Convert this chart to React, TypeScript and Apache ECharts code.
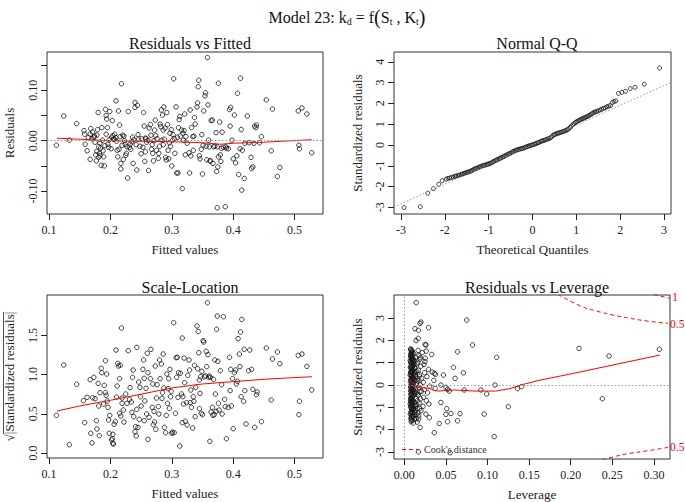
import React, { useEffect, useRef } from "react";
import * as echarts from "echarts";

const FONT = "'Liberation Serif', 'Times New Roman', serif";

// ---------- Residuals vs Fitted: [fitted, residual] ----------
const residFitted: [number, number][] = [
  [0.112,-0.009],[0.124,0.049],[0.133,0.001],[0.145,0.034],[0.157,0.020],[0.158,0.013],[0.159,-0.007],[0.162,-0.020],
  [0.167,-0.037],[0.168,0.024],[0.167,0.013],[0.170,0.004],[0.173,0.007],[0.174,0.009],[0.177,-0.040],[0.178,0.011],
  [0.180,0.056],[0.179,0.022],[0.181,-0.012],[0.182,-0.025],[0.181,-0.033],[0.183,-0.005],[0.184,-0.015],[0.185,-0.049],
  [0.186,0.026],[0.189,-0.032],[0.190,-0.050],[0.192,0.062],[0.193,0.050],[0.194,0.043],[0.193,0.013],[0.195,0.026],
  [0.196,-0.007],[0.197,-0.013],[0.199,0.058],[0.202,0.007],[0.203,0.040],[0.205,0.003],[0.206,0.003],[0.209,0.079],
  [0.209,0.006],[0.211,-0.019],[0.212,-0.032],[0.213,0.059],[0.215,0.031],[0.216,0.008],[0.217,-0.045],[0.217,-0.056],
  [0.218,0.113],[0.219,-0.009],[0.220,0.011],[0.222,0.009],[0.224,-0.007],[0.225,-0.029],[0.226,-0.025],[0.228,-0.074],
  [0.229,0.058],[0.231,-0.013],[0.232,-0.007],[0.235,-0.002],[0.236,0.007],[0.237,-0.045],[0.240,0.076],[0.240,0.066],
  [0.243,-0.058],[0.244,0.070],[0.246,0.003],[0.248,-0.011],[0.250,-0.026],[0.253,-0.013],[0.254,0.056],[0.255,0.029],
  [0.256,-0.041],[0.257,-0.022],[0.258,0.004],[0.259,-0.003],[0.261,0.001],[0.262,-0.059],[0.265,0.032],[0.266,0.011],
  [0.268,-0.008],[0.269,-0.025],[0.270,-0.040],[0.271,0.000],[0.272,0.021],[0.273,0.041],[0.275,-0.019],[0.276,0.004],
  [0.278,-0.035],[0.280,-0.011],[0.282,0.028],[0.283,0.061],[0.284,0.001],[0.285,0.051],[0.286,0.021],[0.287,0.067],
  [0.288,0.003],[0.290,-0.033],[0.291,-0.038],[0.292,0.056],[0.293,0.032],[0.294,-0.019],[0.295,-0.036],[0.296,-0.004],
  [0.297,0.015],[0.298,-0.011],[0.299,0.022],[0.301,0.001],[0.303,0.123],[0.304,0.004],[0.305,-0.025],[0.307,0.067],
  [0.308,-0.064],[0.310,-0.064],[0.309,0.007],[0.311,0.026],[0.312,0.042],[0.313,0.048],[0.314,0.009],[0.316,0.021],
  [0.317,-0.095],[0.318,0.015],[0.319,0.001],[0.320,0.020],[0.321,0.053],[0.322,-0.028],[0.323,0.008],[0.325,-0.005],
  [0.328,-0.024],[0.329,-0.064],[0.330,0.061],[0.331,-0.030],[0.332,0.026],[0.334,0.008],[0.335,-0.019],[0.336,0.009],
  [0.337,0.046],[0.338,0.033],[0.341,0.067],[0.342,0.075],[0.343,0.107],[0.344,0.120],[0.345,-0.030],[0.346,-0.036],
  [0.348,-0.017],[0.349,0.012],[0.350,-0.066],[0.351,-0.009],[0.352,0.059],[0.354,0.089],[0.355,0.095],[0.356,-0.011],
  [0.357,-0.038],[0.358,0.165],[0.359,0.071],[0.360,0.001],[0.361,-0.012],[0.362,-0.040],[0.363,-0.040],[0.364,0.040],
  [0.366,0.041],[0.367,-0.045],[0.368,-0.012],[0.370,-0.011],[0.372,0.016],[0.373,-0.061],[0.374,-0.012],[0.375,-0.052],
  [0.376,0.114],[0.376,-0.032],[0.378,0.037],[0.379,-0.028],[0.380,-0.041],[0.381,-0.015],[0.382,0.017],[0.384,-0.013],
  [0.387,-0.131],[0.374,-0.133],[0.388,-0.012],[0.389,-0.015],[0.392,-0.016],[0.394,0.062],[0.395,0.029],[0.396,0.066],
  [0.398,0.001],[0.400,-0.036],[0.402,0.051],[0.404,-0.044],[0.406,-0.030],[0.407,0.094],[0.409,-0.067],[0.411,-0.016],
  [0.412,0.124],[0.413,0.022],[0.414,-0.098],[0.415,-0.019],[0.418,-0.075],[0.419,-0.005],[0.423,0.049],[0.426,-0.004],
  [0.429,-0.033],[0.430,-0.055],[0.432,-0.052],[0.434,-0.005],[0.435,0.029],[0.437,0.026],[0.438,0.031],[0.443,-0.004],
  [0.446,0.008],[0.454,0.081],[0.462,-0.020],[0.464,0.063],[0.472,-0.071],[0.476,-0.053],[0.506,0.059],[0.507,-0.009],
  [0.508,-0.016],[0.512,0.065],[0.520,0.053],[0.528,-0.024],
  [0.164,0.006],[0.171,0.017],[0.175,-0.003],[0.176,-0.028],[0.178,-0.021],[0.183,-0.030],[0.187,0.001],[0.188,-0.020],
  [0.191,-0.010],[0.198,0.002],[0.201,-0.016],[0.204,0.010],[0.207,0.013],[0.210,-0.001],[0.214,-0.017],[0.221,-0.037],
  [0.223,0.000],[0.227,-0.012],[0.233,-0.017],[0.238,0.002],[0.242,-0.008],[0.245,0.012],[0.251,0.004],[0.257,0.005],
  [0.263,0.025],[0.267,-0.017],[0.274,0.010],[0.279,-0.025],[0.281,0.033],[0.286,-0.008],[0.289,0.025],[0.300,-0.050],
  [0.302,0.012]
];
const lowessRF: [number, number][] = [
  [0.113,0.005],[0.15,0.003],[0.2,0.0],[0.25,-0.001],[0.3,-0.002],[0.35,-0.004],[0.38,-0.007],[0.40,-0.005],
  [0.45,-0.003],[0.48,-0.001],[0.528,0.002]
];

// ---------- Normal Q-Q: [theoretical, standardized residual] ----------
const qqPoints: [number, number][] = [
  [-2.93,-3.01],[-2.56,-2.97],[-2.39,-2.32],[-2.26,-2.10],[-2.14,-1.89],[-2.06,-1.72],
  [-1.97,-1.64],[-1.93,-1.61],[-1.89,-1.59],[-1.85,-1.56],[-1.81,-1.54],[-1.77,-1.51],[-1.74,-1.49],[-1.70,-1.47],
  [-1.67,-1.45],[-1.63,-1.42],[-1.60,-1.40],[-1.57,-1.37],[-1.54,-1.35],[-1.51,-1.33],[-1.48,-1.31],[-1.45,-1.29],
  [-1.42,-1.27],[-1.39,-1.24],[-1.36,-1.20],[-1.33,-1.16],[-1.30,-1.14],[-1.27,-1.12],[-1.24,-1.09],[-1.21,-1.06],
  [-1.18,-1.03],[-1.15,-1.01],[-1.12,-0.99],[-1.09,-0.97],[-1.06,-0.95],[-1.03,-0.93],[-1.00,-0.91],[-0.97,-0.89],
  [-0.94,-0.86],[-0.91,-0.82],[-0.88,-0.79],[-0.85,-0.75],[-0.82,-0.72],[-0.79,-0.69],[-0.76,-0.66],[-0.73,-0.63],
  [-0.70,-0.60],[-0.67,-0.57],[-0.64,-0.54],[-0.61,-0.50],[-0.58,-0.47],[-0.55,-0.44],[-0.52,-0.41],[-0.49,-0.38],
  [-0.46,-0.34],[-0.43,-0.31],[-0.40,-0.28],[-0.37,-0.25],[-0.34,-0.23],[-0.31,-0.21],[-0.28,-0.19],[-0.25,-0.18],
  [-0.22,-0.16],[-0.19,-0.14],[-0.16,-0.11],[-0.13,-0.08],[-0.10,-0.06],[-0.07,-0.04],[-0.04,-0.02],[-0.01,0.00],
  [0.02,0.02],[0.05,0.04],[0.08,0.07],[0.11,0.09],[0.14,0.12],[0.17,0.15],[0.20,0.18],[0.23,0.20],
  [0.26,0.22],[0.29,0.24],[0.32,0.27],[0.35,0.29],[0.38,0.31],[0.41,0.34],[0.44,0.40],[0.47,0.47],
  [0.50,0.50],[0.53,0.52],[0.56,0.55],[0.59,0.57],[0.62,0.59],[0.65,0.61],[0.68,0.63],[0.71,0.65],
  [0.74,0.68],[0.77,0.71],[0.80,0.73],[0.83,0.78],[0.86,0.85],[0.89,0.91],[0.92,0.97],[0.95,1.03],
  [0.98,1.08],[1.01,1.12],[1.04,1.16],[1.07,1.19],[1.10,1.22],[1.13,1.26],[1.16,1.28],[1.19,1.31],
  [1.22,1.34],[1.25,1.37],[1.28,1.40],[1.31,1.44],[1.34,1.48],[1.37,1.52],[1.40,1.56],[1.43,1.59],
  [1.46,1.61],[1.50,1.64],[1.54,1.68],[1.58,1.72],[1.62,1.76],[1.66,1.79],[1.70,1.84],[1.74,1.87],
  [1.78,1.89],[1.82,2.04],[1.86,2.09],[1.90,2.12],
  [1.96,2.48],[2.04,2.53],[2.12,2.58],[2.23,2.71],[2.34,2.77],[2.55,2.92],[2.90,3.70]
];
const qqLine: [number, number][] = [[-3.3,-3.12],[3.3,3.14]];

// ---------- Scale-Location: [fitted, sqrt|std resid|] ----------
const scaleLoc: [number, number][] = [
  [0.112,0.480],[0.124,1.122],[0.133,0.106],[0.145,0.876],[0.156,0.667],[0.158,0.387],[0.162,0.710],[0.167,0.935],
  [0.168,0.251],[0.170,0.128],[0.171,0.705],[0.173,0.965],[0.175,0.693],[0.177,0.412],[0.178,0.306],[0.180,0.888],
  [0.181,0.599],[0.182,0.221],[0.183,0.769],[0.185,1.080],[0.186,1.024],[0.192,1.177],[0.189,0.625],[0.190,0.863],
  [0.192,0.769],[0.193,0.735],[0.194,1.007],[0.195,0.663],[0.196,0.582],[0.197,0.421],[0.198,0.251],[0.199,0.480],
  [0.202,0.166],[0.203,0.183],[0.204,0.123],[0.204,0.238],[0.205,0.115],[0.206,0.366],[0.208,0.400],[0.209,1.313],
  [0.210,0.714],[0.211,0.854],[0.212,1.143],[0.213,1.109],[0.215,0.948],[0.215,0.506],[0.216,1.118],[0.217,0.472],
  [0.218,1.594],[0.219,0.633],[0.219,0.701],[0.221,0.548],[0.222,0.395],[0.225,0.752],[0.227,0.633],[0.229,1.305],
  [0.231,0.684],[0.232,0.833],[0.234,0.650],[0.235,0.519],[0.236,0.965],[0.237,1.058],[0.238,0.463],[0.240,0.272],
  [0.241,0.336],[0.242,0.217],[0.243,1.347],[0.243,0.557],[0.245,0.327],[0.246,0.905],[0.247,0.429],[0.248,0.837],
  [0.249,0.718],[0.250,0.599],[0.253,1.067],[0.254,1.186],[0.255,0.952],[0.255,0.412],[0.256,0.663],[0.258,0.825],
  [0.259,0.497],[0.260,1.271],[0.261,0.174],[0.261,1.024],[0.263,0.455],[0.265,0.948],[0.266,1.322],[0.268,0.582],
  [0.269,0.880],[0.270,0.361],[0.271,0.531],[0.272,0.395],[0.273,1.109],[0.274,0.302],[0.275,0.701],[0.276,0.871],
  [0.278,0.591],[0.279,0.497],[0.280,1.186],[0.281,0.948],[0.283,1.135],[0.284,0.697],[0.285,0.769],[0.286,1.262],
  [0.287,0.829],[0.288,0.327],[0.290,0.259],[0.291,0.480],[0.292,1.007],[0.293,0.633],[0.294,0.820],[0.295,0.948],
  [0.296,0.570],[0.297,1.067],[0.298,0.718],[0.299,0.786],[0.300,0.251],[0.301,0.265],[0.303,1.662],[0.304,0.259],
  [0.306,0.506],[0.307,1.216],[0.308,0.965],[0.309,1.220],[0.310,0.710],[0.311,1.024],[0.313,0.089],[0.314,1.016],
  [0.316,0.752],[0.317,0.387],[0.317,1.466],[0.318,0.718],[0.319,0.625],[0.320,1.211],[0.321,0.897],[0.322,0.404],
  [0.324,0.642],[0.325,0.357],[0.326,0.990],[0.328,1.186],[0.329,1.058],[0.330,0.642],[0.331,0.803],[0.332,0.582],
  [0.334,0.319],[0.335,0.718],[0.336,0.659],[0.337,1.118],[0.338,0.463],[0.339,0.837],[0.341,1.620],[0.343,1.550],
  [0.342,1.075],[0.344,1.279],[0.345,0.931],[0.345,0.565],[0.346,0.761],[0.347,0.973],[0.348,0.506],[0.349,1.041],
  [0.350,0.489],[0.351,1.432],[0.352,1.415],[0.353,0.973],[0.355,0.982],[0.356,1.296],[0.357,1.101],[0.358,1.917],
  [0.359,1.254],[0.360,0.965],[0.361,0.982],[0.362,0.149],[0.363,0.965],[0.364,0.523],[0.366,0.582],[0.367,0.480],
  [0.368,0.939],[0.369,0.489],[0.370,1.186],[0.371,0.752],[0.372,0.531],[0.373,1.577],[0.374,1.747],[0.375,1.169],
  [0.376,0.633],[0.377,0.548],[0.379,1.050],[0.381,0.871],[0.382,0.497],[0.384,1.738],[0.386,0.684],[0.387,0.591],
  [0.389,0.183],[0.392,0.582],[0.394,1.220],[0.395,0.795],[0.396,1.067],[0.397,0.599],[0.399,0.948],[0.400,0.310],
  [0.402,1.024],[0.404,1.058],[0.405,0.880],[0.407,0.914],[0.408,1.458],[0.410,1.262],[0.411,1.101],[0.412,1.543],
  [0.413,0.718],[0.414,1.704],[0.417,0.659],[0.418,1.322],[0.419,0.795],[0.421,0.370],[0.425,1.050],[0.427,1.313],
  [0.430,1.067],[0.432,0.812],[0.435,0.327],[0.438,0.744],[0.439,0.778],[0.446,0.400],[0.454,1.339],[0.462,0.676],
  [0.464,1.199],[0.472,1.288],[0.476,1.139],[0.506,1.245],[0.507,0.489],[0.508,0.659],[0.512,1.262],[0.520,1.105],
  [0.528,0.803]
];
const lowessSL: [number, number][] = [
  [0.113,0.535],[0.15,0.60],[0.2,0.672],[0.25,0.75],[0.3,0.83],[0.35,0.88],[0.4,0.91],[0.45,0.94],[0.528,0.973]
];

// ---------- Residuals vs Leverage: [leverage, std residual] ----------
const levResid: [number, number][] = [
  [0.0075,1.62],[0.0082,1.55],[0.0090,1.48],[0.0078,1.40],[0.0086,1.33],[0.0095,1.36],[0.0080,1.25],[0.0092,1.21],
  [0.0101,1.28],[0.0085,1.15],[0.0098,1.10],[0.0077,1.05],[0.0108,1.02],[0.0089,0.96],[0.0115,0.92],[0.0082,0.88],
  [0.0096,0.82],[0.0125,0.79],[0.0079,0.74],[0.0104,0.70],[0.0088,0.64],[0.0132,0.60],[0.0093,0.55],[0.0076,0.50],
  [0.0112,0.46],[0.0085,0.41],[0.0141,0.38],[0.0099,0.33],[0.0081,0.28],[0.0120,0.24],[0.0091,0.19],[0.0074,0.14],
  [0.0108,0.10],[0.0150,0.07],[0.0087,0.03],[0.0079,-0.02],[0.0118,-0.06],[0.0094,-0.10],[0.0135,-0.14],[0.0083,-0.18],
  [0.0102,-0.22],[0.0077,-0.27],[0.0126,-0.31],[0.0090,-0.35],[0.0158,-0.40],[0.0084,-0.44],[0.0110,-0.48],[0.0097,-0.53],
  [0.0076,-0.57],[0.0138,-0.61],[0.0088,-0.66],[0.0105,-0.70],[0.0080,-0.75],[0.0122,-0.79],[0.0093,-0.84],[0.0147,-0.88],
  [0.0085,-0.92],[0.0100,-0.97],[0.0078,-1.01],[0.0116,-1.05],[0.0091,-1.10],[0.0130,-1.14],[0.0083,-1.19],[0.0106,-1.23],
  [0.0096,-1.28],[0.0140,-1.33],[0.0087,-1.38],[0.0112,-1.43],[0.0079,-1.48],[0.0124,-1.53],[0.0094,-1.58],[0.0082,-1.64],
  [0.0109,-1.70],[0.0155,-1.66],[0.0172,-1.52],[0.0165,-1.25],[0.0185,-1.05],[0.0178,-0.80],[0.0195,-0.62],[0.0168,-0.45],
  [0.0205,-0.28],[0.0175,-0.12],[0.0190,0.02],[0.0162,0.18],[0.0210,0.31],[0.0182,0.47],[0.0170,0.66],[0.0198,0.84],
  [0.0160,1.02],[0.0188,1.16],[0.0176,1.32],[0.0215,1.45],[0.0225,-0.95],[0.0232,-0.55],[0.0240,-0.20],[0.0228,0.12],
  [0.0245,0.55],[0.0236,0.92],[0.0252,1.20],[0.0260,-1.30],[0.0265,-0.70],[0.0272,0.38],[0.0280,-0.35],[0.0290,0.70],
  [0.0295,-0.85],[0.0305,-0.05],[0.0262,1.52],[0.0248,1.05],[0.0070,0.45],[0.0072,-0.85],[0.0071,1.10],[0.0073,-1.30],
  [0.0084,0.60],[0.0089,-0.60],[0.0093,0.25],[0.0098,-0.30],[0.0103,0.85],[0.0107,-1.10],[0.0113,1.40],[0.0119,0.55],
  [0.0123,-0.40],[0.0128,1.05],[0.0134,-0.95],[0.0139,0.20],[0.0144,-1.50],[0.0152,0.95],[0.0157,-0.70],[0.0166,1.55],
  [0.0173,-1.38],[0.0181,0.40],[0.0187,-0.30],[0.0193,1.23],[0.0201,-1.15],
  [0.0081,1.58],[0.0087,1.44],[0.0076,1.30],[0.0091,1.18],[0.0079,0.99],[0.0086,0.78],[0.0078,0.58],[0.0092,0.37],
  [0.0080,0.22],[0.0089,0.08],[0.0076,-0.09],[0.0085,-0.24],[0.0078,-0.40],[0.0092,-0.48],[0.0081,-0.62],[0.0086,-0.79],
  [0.0077,-0.94],[0.0090,-1.05],[0.0080,-1.23],[0.0088,-1.42],[0.0083,-1.55],[0.0095,1.52],[0.0099,0.62],[0.0101,-0.05],
  [0.0097,-0.72],[0.0103,-1.38],[0.0106,0.30],[0.0111,1.15],[0.0114,-0.25],[0.0117,-0.92],[0.0121,0.75],[0.0127,-1.22],
  [0.0131,0.48],[0.0136,1.25],[0.0143,-0.35],[0.0149,0.62],[0.0154,-1.05],[0.0161,0.28],[0.0074,0.80],[0.0075,-0.70],
  [0.0143,3.69],[0.0188,2.76],[0.0200,2.82],[0.0128,2.52],[0.0170,2.45],[0.0290,2.57],[0.0168,2.09],[0.0140,1.99],
  [0.0260,1.79],[0.0250,1.82],[0.0330,1.37],[0.0750,2.91],[0.0820,1.79],[0.0640,1.49],[0.1110,1.24],[0.2100,1.64],
  [0.2460,1.30],[0.3065,1.60],[0.2380,-0.61],[0.0470,0.45],[0.0590,0.79],[0.0610,0.30],[0.0710,0.55],[0.0360,0.52],
  [0.0375,0.48],[0.0440,0.00],[0.0500,-0.10],[0.0520,-0.19],[0.0540,-0.27],[0.0720,-0.22],[0.0920,-0.22],[0.0990,-0.40],
  [0.1090,0.00],[0.1360,-0.16],[0.1410,-0.07],[0.0370,-0.15],[0.0440,-0.78],[0.0510,-1.06],[0.0500,-1.31],[0.0560,-1.27],
  [0.0670,-1.28],[0.0640,-1.60],[0.0520,-1.64],[0.0420,-1.72],[0.0360,-2.13],[0.0300,-1.46],[0.0960,-1.30],[0.1250,-0.97],
  [0.1080,-2.31],[0.0190,-1.90],[0.0170,-2.99],[0.0550,-3.03],[0.0335,0.58],[0.0355,0.21]
];
const lowessRL: [number, number][] = [
  [0.0068,0.20],[0.010,0.08],[0.015,-0.10],[0.020,-0.13],[0.030,-0.15],[0.036,-0.24],[0.040,-0.27],[0.060,-0.22],
  [0.085,-0.27],[0.110,-0.27],[0.127,-0.16],[0.143,0.03],[0.163,0.22],[0.203,0.52],[0.246,0.86],[0.307,1.34]
];
const cookUpper05: [number, number][] = [
  [0.185,4.05],[0.211,3.55],[0.231,3.31],[0.251,3.13],[0.271,2.99],[0.291,2.87],[0.317,2.76]
];
const cookUpper1: [number, number][] = [[0.300,4.05],[0.319,3.88]];
const cookLower05: [number, number][] = [
  [0.238,-3.35],[0.255,-3.18],[0.271,-3.06],[0.291,-2.95],[0.317,-2.79]
];

// ---------- ticks ----------
const fittedTicks = [0.1, 0.2, 0.3, 0.4, 0.5];
const residTicks = [-0.1, -0.05, 0, 0.05, 0.1, 0.15];
const residLabels = [-0.1, 0, 0.1];
const qqXTicks = [-3, -2, -1, 0, 1, 2, 3];
const qqYTicks = [-3, -2, -1, 0, 1, 2, 3, 4];
const slYTicks = [0, 0.5, 1.0, 1.5];
const levXTicks = [0, 0.05, 0.1, 0.15, 0.2, 0.25, 0.3];
const levYTicks = [-3, -2, -1, 0, 1, 2, 3];

const TXT = "#222";

function xAxis(gridIndex: number, min: number, max: number, ticks: number[], labels: number[], digits: number, name: string) {
  return {
    type: "value", gridIndex, min, max,
    axisLine: { show: false, onZero: false },
    splitLine: { show: false },
    axisTick: { show: true, length: 6, customValues: ticks, lineStyle: { color: "#222", width: 1 } },
    axisLabel: {
      customValues: labels, margin: 10, color: TXT, fontSize: 12, fontFamily: FONT,
      formatter: (v: number) => v.toFixed(digits),
    },
    name, nameLocation: "middle", nameGap: 29,
    nameTextStyle: { fontSize: 13, fontFamily: FONT, color: TXT },
  };
}
function yAxis(gridIndex: number, min: number, max: number, ticks: number[], labels: number[], digits: number, name: string, gap: number) {
  return {
    type: "value", gridIndex, min, max,
    axisLine: { show: false, onZero: false },
    splitLine: { show: false },
    axisTick: { show: true, length: 6, customValues: ticks, lineStyle: { color: "#222", width: 1 } },
    axisLabel: {
      customValues: labels, margin: 8, rotate: 90, color: TXT, fontSize: 12, fontFamily: FONT,
      formatter: (v: number) => v.toFixed(digits),
    },
    name, nameLocation: "middle", nameGap: gap, nameRotate: 90,
    nameTextStyle: { fontSize: 13, fontFamily: FONT, color: TXT },
  };
}

const pointStyle = { color: "rgba(0,0,0,0)", borderColor: "#111", borderWidth: 1 };
const redLine = { color: "#ff0000", width: 1 };
const dotted = { color: "#999", width: 1, type: [1.5, 2] };

function scatter(idx: number, data: [number, number][], size = 4.5) {
  return {
    type: "scatter", xAxisIndex: idx, yAxisIndex: idx, data, symbol: "circle", symbolSize: size,
    itemStyle: pointStyle, silent: true,
  };
}
function line(idx: number, data: [number, number][], style: any, extra: any = {}) {
  return {
    type: "line", xAxisIndex: idx, yAxisIndex: idx, data, showSymbol: false, symbol: "none",
    lineStyle: style, clip: true, silent: true, ...extra,
  };
}
function mark(items: any[]) {
  return {
    markLine: {
      silent: true, symbol: "none", label: { show: false },
      lineStyle: dotted, data: items, animation: false,
    },
  };
}

function panelTitle(text: string, x: number, y: number) {
  return {
    text, left: x, top: y, textAlign: "center",
    textStyle: { fontSize: 16, fontWeight: "normal", fontFamily: FONT, color: "#111" },
  };
}

const option: any = {
  animation: false,
  title: [
    {
      text: "Model 23: k{s|d} = f{p|(}S{s|t} , K{s|t}{p|)}",
      left: 342, top: 2, textAlign: "center",
      textStyle: {
        fontSize: 16, fontWeight: "normal", fontFamily: FONT, color: "#111",
        rich: {
          s: { fontSize: 10, fontFamily: FONT, color: "#111", padding: [9, 0, 0, 0] },
          p: { fontSize: 20, fontFamily: FONT, color: "#111" },
        },
      },
    },
    panelTitle("Residuals vs Fitted", 185, 30),
    panelTitle("Normal Q-Q", 532, 30),
    panelTitle("Scale-Location", 185, 274),
    panelTitle("Residuals vs Leverage", 532, 274),
  ],
  grid: [
    { left: 47, top: 52, width: 276, height: 162, show: true, borderColor: "#333", borderWidth: 1, backgroundColor: "transparent" },
    { left: 394, top: 52, width: 277, height: 162, show: true, borderColor: "#333", borderWidth: 1, backgroundColor: "transparent" },
    { left: 47, top: 295, width: 276, height: 163, show: true, borderColor: "#333", borderWidth: 1, backgroundColor: "transparent" },
    { left: 394, top: 295, width: 276, height: 164, show: true, borderColor: "#333", borderWidth: 1, backgroundColor: "transparent" },
  ],
  xAxis: [
    xAxis(0, 0.0967, 0.5463, fittedTicks, fittedTicks, 1, "Fitted values"),
    xAxis(1, -3.16, 3.16, qqXTicks, qqXTicks, 0, "Theoretical Quantiles"),
    xAxis(2, 0.0967, 0.5463, fittedTicks, fittedTicks, 1, "Fitted values"),
    xAxis(3, -0.0124, 0.3193, levXTicks, levXTicks, 2, "Leverage"),
  ],
  yAxis: [
    yAxis(0, -0.1454, 0.176, residTicks, residLabels, 2, "Residuals", 31),
    yAxis(1, -3.32, 4.47, qqYTicks, qqYTicks, 0, "Standardized residuals", 30),
    yAxis(2, -0.064, 2.015, slYTicks, slYTicks, 1, "√|Standardized residuals|", 31),
    yAxis(3, -3.31, 4.03, levYTicks, levYTicks, 0, "Standardized residuals", 30),
  ],
  series: [
    line(0, lowessRF, redLine, mark([{ yAxis: 0 }])),
    scatter(0, residFitted),
    line(1, qqLine, dotted),
    scatter(1, qqPoints, 4),
    line(2, lowessSL, redLine),
    scatter(2, scaleLoc),
    line(3, lowessRL, redLine, mark([{ yAxis: 0 }, { xAxis: 0 }])),
    scatter(3, levResid),
    line(3, cookUpper05, { color: "#ff0000", width: 1, type: [4, 3] }, { smooth: true }),
    line(3, cookUpper1, { color: "#ff0000", width: 1, type: [4, 3] }),
    line(3, cookLower05, { color: "#ff0000", width: 1, type: [4, 3] }, { smooth: true }),
  ],
  graphic: [
    { type: "text", left: 672, top: 291, style: { text: "1", fontSize: 12, fontFamily: FONT, fill: "#ff0000" } },
    { type: "text", left: 670, top: 318, style: { text: "0.5", fontSize: 11.5, fontFamily: FONT, fill: "#ff0000" } },
    { type: "text", left: 670, top: 441, style: { text: "0.5", fontSize: 11.5, fontFamily: FONT, fill: "#ff0000" } },
    { type: "line", shape: { x1: 402, y1: 449.5, x2: 419, y2: 449.5 }, style: { stroke: "#ff0000", lineWidth: 1, lineDash: [4, 3] }, z: 100 },
    { type: "text", left: 424, top: 444, style: { text: "Cook's distance", fontSize: 10, fontFamily: FONT, fill: "#333" }, z: 100 },
    // overbar of the square-root sign in the Scale-Location axis title
    { type: "line", shape: { x1: 3.5, y1: 312, x2: 3.5, y2: 434 }, style: { stroke: "#222", lineWidth: 0.8 } },
  ],
};

export default function App() {
  const ref = useRef<HTMLDivElement>(null);
  useEffect(() => {
    if (!ref.current) return;
    const chart = echarts.init(ref.current, null, { renderer: "svg" });
    chart.setOption(option);
    return () => chart.dispose();
  }, []);
  return <div ref={ref} style={{ position: "fixed", left: 0, top: 0, width: 685, height: 502, background: "#fff" }} />;
}
